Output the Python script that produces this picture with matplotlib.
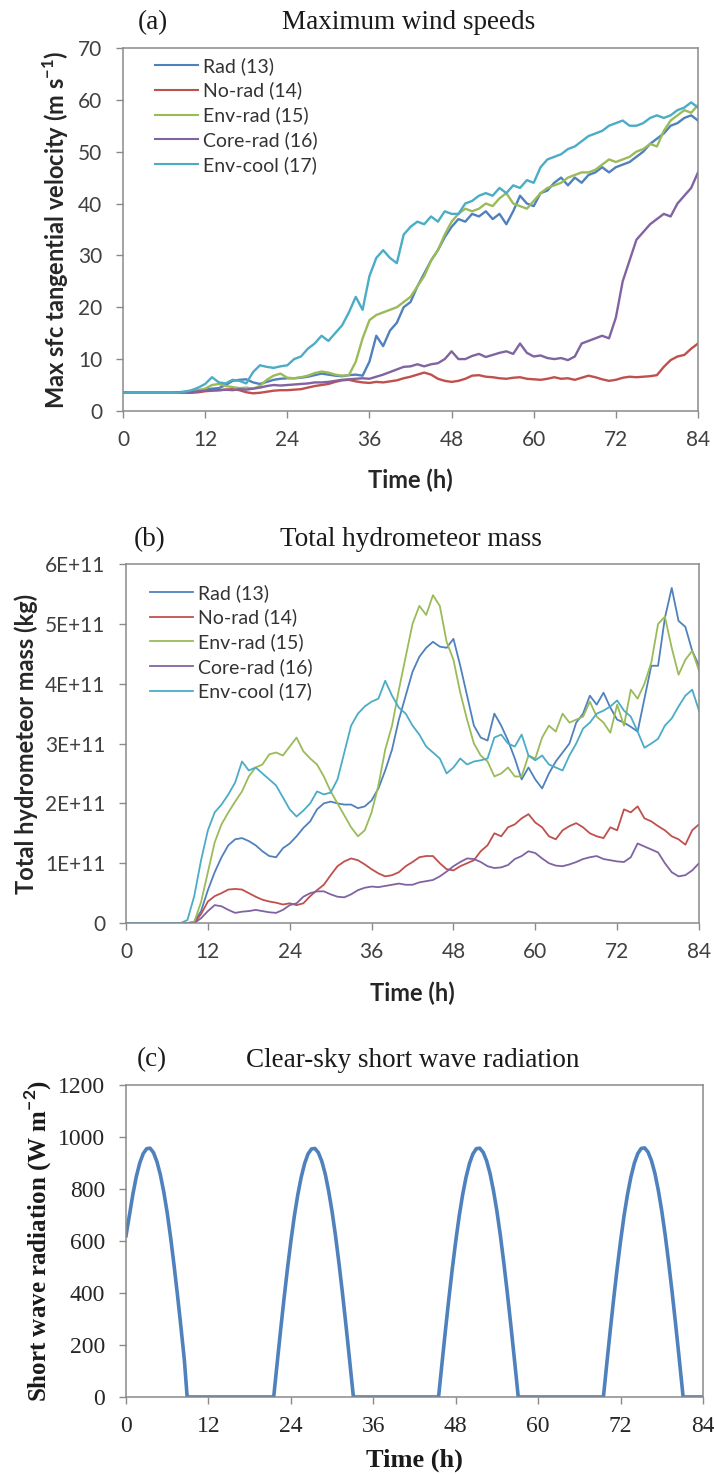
import numpy as np
import matplotlib
matplotlib.use('Agg')
import matplotlib.pyplot as plt
from matplotlib.ticker import FuncFormatter, MultipleLocator

plt.rcParams['mathtext.fontset'] = 'custom'
plt.rcParams['mathtext.rm'] = 'Lato'
plt.rcParams['mathtext.bf'] = 'Lato:bold'

SANS = ['Lato', 'DejaVu Sans']
SERIF = ['Liberation Serif', 'DejaVu Serif']

# hourly output, 0..84 h
hours = list(range(85))
run_names = ['Rad (13)', 'No-rad (14)', 'Env-rad (15)', 'Core-rad (16)', 'Env-cool (17)']
run_colors = ['#4F81BD', '#C0504D', '#9BBB59', '#8064A2', '#4BACC6']

# (a) max surface tangential velocity, m/s
vmax_rad = [3.6, 3.5, 3.5, 3.5, 3.5, 3.5, 3.5, 3.5, 3.6, 3.7,
            3.8, 4.0, 4.1, 4.3, 4.4, 5.0, 5.8, 6.0, 6.1, 5.5,
            5.2, 5.6, 6.0, 6.2, 6.3, 6.3, 6.4, 6.6, 6.9, 7.2,
            7.0, 6.8, 6.7, 6.9, 7.0, 6.8, 9.5, 14.5, 12.5, 15.5,
            17.0, 20.0, 21.0, 24.0, 26.5, 29.0, 31.0, 33.5, 35.5, 37.0,
            36.5, 38.0, 37.5, 38.5, 37.0, 38.0, 36.0, 38.5, 41.5, 40.0,
            39.5, 42.0, 42.5, 44.0, 45.0, 43.5, 45.0, 44.0, 45.5, 46.0,
            47.0, 46.0, 47.0, 47.5, 48.0, 49.0, 50.0, 51.5, 52.5, 53.5,
            55.0, 55.5, 56.5, 57.0, 56.0]
vmax_norad = [3.5, 3.5, 3.5, 3.5, 3.5, 3.5, 3.5, 3.5, 3.5, 3.5,
              3.5, 3.6, 3.8, 3.9, 4.0, 4.1, 4.2, 4.0, 3.6, 3.4,
              3.5, 3.7, 3.9, 4.0, 4.0, 4.1, 4.2, 4.5, 4.8, 5.0,
              5.2, 5.6, 5.9, 6.0, 5.7, 5.5, 5.4, 5.6, 5.5, 5.7,
              5.9, 6.3, 6.6, 7.0, 7.4, 7.0, 6.2, 5.8, 5.6, 5.8,
              6.2, 6.8, 6.9, 6.6, 6.5, 6.3, 6.2, 6.4, 6.5, 6.2,
              6.1, 6.0, 6.2, 6.5, 6.2, 6.3, 6.0, 6.4, 6.8, 6.5,
              6.1, 5.8, 6.0, 6.4, 6.6, 6.5, 6.6, 6.7, 6.9, 8.5,
              9.8, 10.5, 10.8, 12.0, 13.0]
vmax_envrad = [3.5, 3.5, 3.5, 3.5, 3.5, 3.5, 3.5, 3.5, 3.5, 3.5,
               3.8, 4.0, 4.3, 5.0, 5.2, 4.8, 4.6, 4.4, 4.5, 4.3,
               4.8, 6.0, 6.8, 7.2, 6.4, 6.3, 6.5, 6.8, 7.3, 7.6,
               7.4, 7.0, 6.8, 6.9, 9.5, 14.0, 17.5, 18.5, 19.0, 19.5,
               20.0, 21.0, 22.0, 24.0, 26.0, 29.0, 31.0, 34.0, 36.5, 38.0,
               39.0, 38.5, 39.0, 40.0, 39.5, 41.0, 42.0, 40.0, 39.5, 39.0,
               40.5, 42.0, 43.0, 43.5, 44.0, 45.0, 45.5, 46.0, 46.0, 46.5,
               47.5, 48.5, 48.0, 48.5, 49.0, 50.0, 50.5, 51.5, 51.0, 54.0,
               56.0, 57.0, 58.0, 57.5, 59.0]
vmax_corerad = [3.5, 3.5, 3.5, 3.5, 3.5, 3.5, 3.5, 3.5, 3.5, 3.5,
                3.6, 3.8, 3.9, 4.0, 4.0, 4.1, 4.0, 4.2, 4.1, 4.3,
                4.5, 4.8, 5.0, 4.9, 5.0, 5.1, 5.2, 5.3, 5.5, 5.5,
                5.6, 5.8, 6.0, 6.1, 6.2, 6.3, 6.2, 6.6, 7.0, 7.5,
                8.0, 8.5, 8.6, 9.0, 8.6, 9.0, 9.2, 10.0, 11.5, 10.0,
                10.0, 10.6, 11.0, 10.4, 10.8, 11.2, 11.5, 11.0, 13.0, 11.2,
                10.5, 10.7, 10.2, 10.0, 10.2, 9.8, 10.5, 13.0, 13.5, 14.0,
                14.5, 14.0, 18.0, 25.0, 29.0, 33.0, 34.5, 36.0, 37.0, 38.0,
                37.5, 40.0, 41.5, 43.0, 46.0]
vmax_envcool = [3.5, 3.5, 3.5, 3.5, 3.5, 3.5, 3.5, 3.5, 3.5, 3.7,
                4.0, 4.5, 5.2, 6.5, 5.5, 5.3, 6.0, 5.8, 5.3, 7.5,
                8.8, 8.5, 8.3, 8.6, 8.8, 10.0, 10.5, 12.0, 13.0, 14.5,
                13.5, 15.0, 16.5, 19.0, 22.0, 19.5, 26.0, 29.5, 31.0, 29.5,
                28.5, 34.0, 35.5, 36.5, 36.0, 37.5, 36.5, 38.5, 38.0, 38.0,
                40.0, 40.5, 41.5, 42.0, 41.5, 43.0, 42.0, 43.5, 43.0, 44.5,
                44.0, 47.0, 48.5, 49.0, 49.5, 50.5, 51.0, 52.0, 53.0, 53.5,
                54.0, 55.0, 55.5, 56.0, 55.0, 55.0, 55.5, 56.5, 57.0, 56.5,
                57.0, 58.0, 58.5, 59.5, 58.5]

# (b) total hydrometeor mass, units of 1E+11 kg
hm_rad = [0, 0, 0, 0, 0, 0, 0, 0, 0, 0,
          0.02, 0.2, 0.55, 0.85, 1.1, 1.3, 1.4, 1.42, 1.37, 1.3,
          1.2, 1.12, 1.1, 1.25, 1.33, 1.45, 1.59, 1.7, 1.9, 2.0,
          2.03, 2.0, 1.98, 1.98, 1.92, 1.95, 2.05, 2.25, 2.55, 2.9,
          3.4, 3.8, 4.2, 4.45, 4.6, 4.7, 4.62, 4.6, 4.75, 4.3,
          3.8, 3.3, 3.1, 3.05, 3.5, 3.3, 3.05, 2.75, 2.4, 2.6,
          2.4, 2.25, 2.5, 2.7, 2.85, 3.0, 3.35, 3.5, 3.8, 3.65,
          3.85, 3.6, 3.4, 3.35, 3.28, 3.2, 3.75, 4.3, 4.3, 5.1,
          5.6, 5.05, 4.95, 4.55, 4.3]
hm_norad = [0, 0, 0, 0, 0, 0, 0, 0, 0, 0,
            0, 0.15, 0.36, 0.45, 0.5, 0.56, 0.57, 0.56, 0.5, 0.44,
            0.39, 0.36, 0.34, 0.31, 0.33, 0.3, 0.33, 0.45, 0.55, 0.64,
            0.8, 0.95, 1.03, 1.08, 1.05, 0.98, 0.9, 0.83, 0.78, 0.8,
            0.85, 0.95, 1.02, 1.1, 1.12, 1.12, 1.0, 0.9, 0.88, 0.95,
            1.0, 1.05, 1.2, 1.3, 1.5, 1.45, 1.6, 1.65, 1.75, 1.82,
            1.68, 1.6, 1.45, 1.4, 1.55, 1.62, 1.67, 1.6, 1.5, 1.45,
            1.42, 1.6, 1.55, 1.9, 1.85, 1.95, 1.75, 1.7, 1.62, 1.55,
            1.45, 1.4, 1.31, 1.55, 1.65]
hm_envrad = [0, 0, 0, 0, 0, 0, 0, 0, 0, 0,
             0.02, 0.35, 0.85, 1.35, 1.65, 1.85, 2.03, 2.2, 2.45, 2.6,
             2.65, 2.82, 2.85, 2.8, 2.95, 3.1, 2.87, 2.75, 2.65, 2.45,
             2.2, 2.0, 1.8, 1.6, 1.45, 1.55, 1.85, 2.3, 2.9, 3.3,
             3.9, 4.45, 5.0, 5.3, 5.15, 5.48, 5.3, 4.7, 4.4, 3.85,
             3.4, 3.0, 2.8, 2.7, 2.45, 2.5, 2.6, 2.45, 2.45, 2.8,
             2.75, 3.1, 3.3, 3.2, 3.5, 3.35, 3.4, 3.45, 3.7, 3.45,
             3.35, 3.18, 3.65, 3.3, 3.9, 3.75, 4.0, 4.35, 5.0, 5.12,
             4.6, 4.15, 4.4, 4.55, 4.22]
hm_corerad = [0, 0, 0, 0, 0, 0, 0, 0, 0, 0,
              0, 0.08, 0.2, 0.3, 0.28, 0.22, 0.17, 0.19, 0.2, 0.22,
              0.2, 0.18, 0.17, 0.22, 0.3, 0.33, 0.44, 0.5, 0.53, 0.53,
              0.48, 0.44, 0.43, 0.48, 0.55, 0.59, 0.61, 0.6, 0.62, 0.64,
              0.66, 0.64, 0.64, 0.68, 0.7, 0.72, 0.78, 0.86, 0.95, 1.02,
              1.08, 1.07, 1.02, 0.95, 0.92, 0.93, 0.97, 1.07, 1.12, 1.2,
              1.17, 1.08, 1.0, 0.96, 0.95, 0.98, 1.02, 1.07, 1.1, 1.12,
              1.07, 1.05, 1.03, 1.02, 1.1, 1.33, 1.28, 1.23, 1.18, 1.0,
              0.85, 0.78, 0.8, 0.88, 1.0]
hm_envcool = [0, 0, 0, 0, 0, 0, 0, 0, 0, 0.05,
              0.45, 1.05, 1.55, 1.85, 1.98, 2.15, 2.35, 2.7, 2.55, 2.6,
              2.5, 2.4, 2.3, 2.1, 1.9, 1.78, 1.88, 2.0, 2.2, 2.15,
              2.18, 2.4, 2.85, 3.3, 3.5, 3.62, 3.7, 3.75, 4.05, 3.8,
              3.6, 3.5, 3.3, 3.15, 2.95, 2.85, 2.75, 2.5, 2.6, 2.75,
              2.65, 2.7, 2.72, 2.75, 3.1, 3.15, 3.0, 2.95, 3.15, 2.8,
              2.72, 2.8, 2.65, 2.6, 2.55, 2.8, 3.0, 3.25, 3.35, 3.5,
              3.55, 3.62, 3.72, 3.55, 3.45, 3.2, 2.93, 3.0, 3.08, 3.3,
              3.42, 3.62, 3.8, 3.9, 3.55]

# (c) clear-sky short wave radiation, W m-2 (half-hourly while the sun is up)
sw_hours = [0, 0.5, 1, 1.5, 2, 2.5, 3, 3.5, 4, 4.5, 5, 5.5, 6, 6.5, 7, 7.5, 8, 8.5, 8.9,
            21.5, 22, 22.5, 23, 23.5, 24, 24.5, 25, 25.5, 26, 26.5, 27, 27.5,
            28, 28.5, 29, 29.5, 30, 30.5, 31, 31.5, 32, 32.5, 33, 33.1,
            45.5, 46, 46.5, 47, 47.5, 48, 48.5, 49, 49.5, 50, 50.5, 51, 51.5,
            52, 52.5, 53, 53.5, 54, 54.5, 55, 55.5, 56, 56.5, 57, 57.1,
            69.5, 70, 70.5, 71, 71.5, 72, 72.5, 73, 73.5, 74, 74.5, 75, 75.5,
            76, 76.5, 77, 77.5, 78, 78.5, 79, 79.5, 80, 80.5, 81, 81.1, 84]
sw_rad = [620, 700, 780, 848, 900, 936, 955, 957, 940, 905, 855, 788, 708, 612, 505, 390, 268, 140, 0,
          0, 129, 256, 378, 493, 599, 695, 777, 845, 898, 935, 954, 956,
          940, 907, 858, 792, 713, 620, 515, 402, 281, 155, 26, 0,
          0, 129, 256, 378, 493, 599, 695, 777, 845, 898, 935, 955, 957,
          941, 908, 859, 793, 714, 621, 516, 403, 282, 156, 27, 0,
          0, 130, 257, 379, 494, 600, 696, 778, 846, 899, 936, 956, 958,
          942, 909, 860, 794, 715, 622, 517, 404, 283, 157, 28, 0, 0]

fig = plt.figure(figsize=(7.14, 14.75), dpi=100)
ax_a = fig.add_axes([0.1723, 0.7214, 0.8053, 0.2461])
ax_b = fig.add_axes([0.1765, 0.3742, 0.8025, 0.2434])
ax_c = fig.add_axes([0.1765, 0.0529, 0.8081, 0.2115])

SPINE = '#8a8a8a'


def style_axes(ax, label_font, label_color, size):
    for sp in ax.spines.values():
        sp.set_color(SPINE)
        sp.set_linewidth(1.1)
    ax.tick_params(direction='out', length=5, width=1.0, color=SPINE,
                   labelsize=size, labelcolor=label_color)
    ax.tick_params(axis='x', pad=9)
    ax.tick_params(axis='y', pad=10)
    ax.set_xlim(0, 84)
    ax.xaxis.set_major_locator(MultipleLocator(12))
    for lab in ax.get_xticklabels() + ax.get_yticklabels():
        lab.set_family(label_font)


def panel_title(ax, tag, title, tag_x, y):
    ax.text(tag_x, y, tag, transform=ax.transAxes, ha='center', va='center',
            family=SERIF, fontsize=19.5, color='#1a1a1a')
    ax.text(0.497, y, title, transform=ax.transAxes, ha='center', va='center',
            family=SERIF, fontsize=19.5, color='#1a1a1a')


# (a)
a_series = [vmax_rad, vmax_norad, vmax_envrad, vmax_corerad, vmax_envcool]
for vals, name, col in zip(a_series, run_names, run_colors):
    ax_a.plot(hours, vals, color=col, lw=1.7, label=name)
ax_a.set_ylim(0, 70)
ax_a.yaxis.set_major_locator(MultipleLocator(10))
style_axes(ax_a, SANS, '#404040', 15)
ax_a.set_xlabel('Time (h)', family=SANS, fontsize=17, fontweight='bold',
                color='#262626', va='center')
ax_a.xaxis.set_label_coords(0.5, -0.19)
ax_a.set_ylabel('Max sfc tangential velocity (m s$^{\\mathbf{-1}}$)', family=SANS,
                fontsize=17, fontweight='bold', color='#262626', va='center')
ax_a.yaxis.set_label_coords(-0.1165, 0.5)
leg = ax_a.legend(loc='upper left', bbox_to_anchor=(0.0557, 0.975), frameon=False,
                  prop={'family': SANS, 'size': 14}, handlelength=2.2,
                  handletextpad=0.25, labelspacing=0.35, borderpad=0, borderaxespad=0)
for t in leg.get_texts():
    t.set_color('#333333')
for h in leg.get_lines():
    h.set_linewidth(1.5)
panel_title(ax_a, '(a)', 'Maximum wind speeds', 0.052, 1.069)

# (b)
b_series = [hm_rad, hm_norad, hm_envrad, hm_corerad, hm_envcool]
for vals, name, col in zip(b_series, run_names, run_colors):
    ax_b.plot(hours, np.array(vals) * 1e11, color=col, lw=1.3, label=name)
ax_b.set_ylim(0, 6e11)
ax_b.yaxis.set_major_locator(MultipleLocator(1e11))
ax_b.yaxis.set_major_formatter(FuncFormatter(
    lambda v, p: '0' if v == 0 else '%dE+11' % round(v / 1e11)))
style_axes(ax_b, SANS, '#404040', 15)
ax_b.set_xlabel('Time (h)', family=SANS, fontsize=17, fontweight='bold',
                color='#262626', va='center')
ax_b.xaxis.set_label_coords(0.5, -0.195)
ax_b.set_ylabel('Total hydrometeor mass (kg)', family=SANS, fontsize=17,
                fontweight='bold', color='#262626', va='center')
ax_b.yaxis.set_label_coords(-0.1745, 0.5)
leg = ax_b.legend(loc='upper left', bbox_to_anchor=(0.042, 0.945), frameon=False,
                  prop={'family': SANS, 'size': 14}, handlelength=2.2,
                  handletextpad=0.25, labelspacing=0.35, borderpad=0, borderaxespad=0)
for t in leg.get_texts():
    t.set_color('#333333')
panel_title(ax_b, '(b)', 'Total hydrometeor mass', 0.042, 1.067)

# (c)
ax_c.plot(sw_hours, sw_rad, color='#4F81BD', lw=2.6)
ax_c.set_ylim(0, 1200)
ax_c.yaxis.set_major_locator(MultipleLocator(200))
style_axes(ax_c, SERIF, '#262626', 17)
ax_c.set_xlabel('Time (h)', family=SERIF, fontsize=19, fontweight='bold',
                color='#1a1a1a', va='center')
ax_c.xaxis.set_label_coords(0.5, -0.202)
ax_c.set_ylabel('Short wave radiation (W m$^{\\mathbf{-2}}$)', family=SERIF,
                fontsize=18, fontweight='bold', color='#1a1a1a', va='center')
ax_c.yaxis.set_label_coords(-0.1525, 0.5)
panel_title(ax_c, '(c)', 'Clear-sky short wave radiation', 0.045, 1.080)

fig.savefig('out.png', dpi=100, facecolor='white')
